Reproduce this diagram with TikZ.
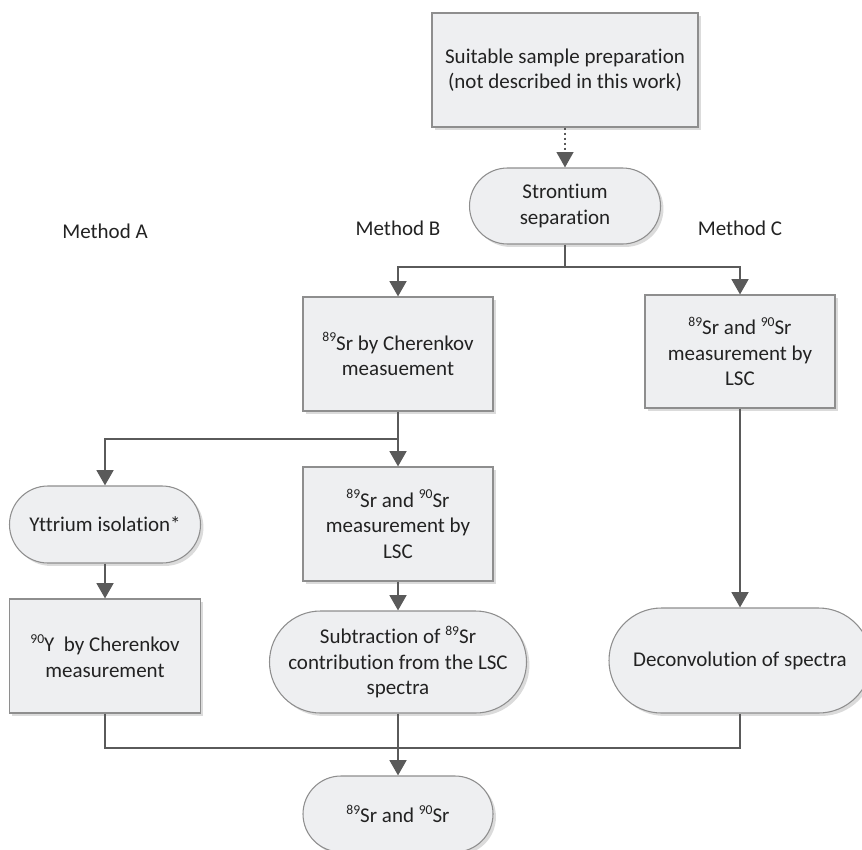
\documentclass[tikz,border=0pt]{standalone}
\usepackage{fontspec}
\setmainfont{Carlito}[Ligatures=NoCommon]
\usetikzlibrary{arrows.meta,shapes.misc,shadows}

\definecolor{linegray}{HTML}{5A5A5A}
\definecolor{boxfill}{HTML}{EEEFF1}
\definecolor{boxline}{HTML}{8E8E8E}
\definecolor{txtgray}{HTML}{222222}

\newcommand\nuc[1]{\raisebox{0.4em}{\fontsize{10.2}{11}\selectfont #1}}

\begin{document}
\begin{tikzpicture}[x=0.75pt, y=-0.75pt,
  box/.style={draw=boxline, line width=0.8pt, fill=boxfill, text=txtgray, align=center, inner sep=0pt,
    font=\fontsize{15.75}{19.1}\selectfont,
    general shadow={fill=black!14, shadow xshift=2.2pt, shadow yshift=-2.2pt}},
  term/.style={box, rounded rectangle},
  dims/.style 2 args={minimum width=#1*\unit, minimum height=#2*\unit},
  conn/.style={draw=linegray, line width=2pt},
  flow/.style={conn, -{Triangle[width=12.5pt,length=11.5pt]}},
  lbl/.style={text=txtgray, inner sep=0pt, font=\fontsize{15.75}{19.1}\selectfont}]

  \def\unit{0.75pt}
  \useasboundingbox (0,0) rectangle (862,849);

  %steps
  \node[box, dims={266}{114}] (prep) at (565,70) {Suitable sample preparation\\(not described in this work)};
  \node[term, dims={191}{76}] (strsep) at (565,206) {Strontium\\separation};

  \node[box, dims={190}{114}] (chB) at (398,354) {\nuc{89}Sr by Cherenkov\\measuement};
  \node[box, dims={190}{113}] (lscC) at (740,351.5) {\nuc{89}Sr and \nuc{90}Sr\\measurement by\\LSC};

  \node[term, dims={191}{77}] (yiso) at (105,524.5) {Yttrium isolation*};
  \node[box, dims={190}{114}] (lscB) at (398,524) {\nuc{89}Sr and \nuc{90}Sr\\measurement by\\LSC};

  \node[box, dims={191}{114}] (ych) at (105,656) {\nuc{90}Y\ \ by Cherenkov\\measurement};
  \node[term, dims={257}{102}] (subB) at (398,662) {Subtraction of \nuc{89}Sr\\contribution from the LSC\\spectra};
  \node[term, dims={262}{105}] (decC) at (740,660.5) {Deconvolution of spectra};

  \node[term, dims={190}{76}] (final) at (398,814) {\nuc{89}Sr and \nuc{90}Sr};

  %method labels
  \foreach \x/\y/\name/\m in {105/231/methA/A, 398/228/methB/B, 740/228/methC/C}{
    \node[lbl] (\name) at (\x,\y) {Method \m};
  }

  %branch points
  \coordinate (splitT) at (565,267);
  \coordinate (splitB) at (398,439);
  \coordinate (join) at (398,748);

  %connectors
  \draw[flow, line width=1.5pt, dash pattern=on 1.5pt off 2.25pt] (prep.south) -- (strsep.north);
  \draw[conn] (strsep.south) -- (splitT);
  \draw[flow] (splitT) -| (chB.north);
  \draw[flow] (splitT) -| (lscC.north);

  \draw[flow] (splitB) -| (yiso.north);
  \foreach \a/\b in {chB/lscB, yiso/ych, lscB/subB, lscC/decC}{
    \draw[flow] (\a.south) -- (\b.north);
  }

  \draw[conn] (ych.south) |- (join) -| (decC.south);
  \draw[flow] (subB.south) -- (final.north);

\end{tikzpicture}
\end{document}
